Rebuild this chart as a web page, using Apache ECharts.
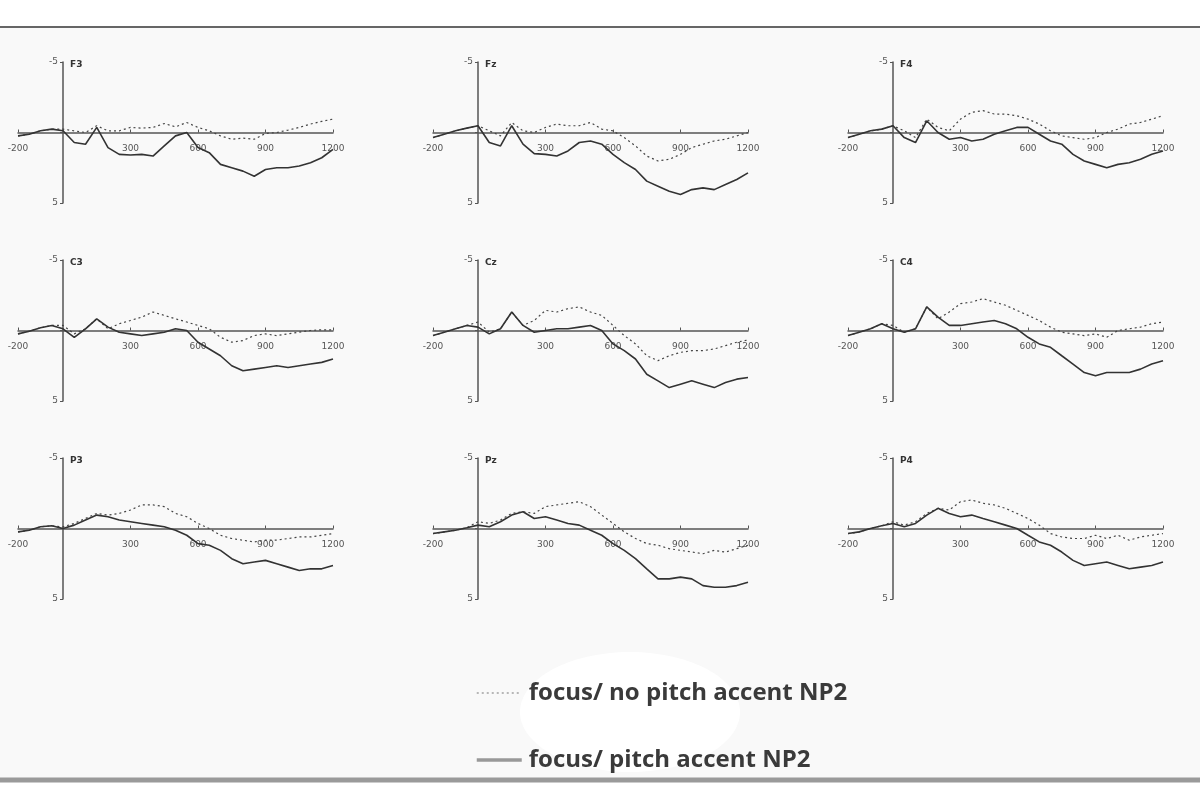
<!DOCTYPE html>
<html>
<head>
<meta charset="utf-8">
<title>ERP waveforms</title>
<script src="https://cdn.jsdelivr.net/npm/echarts@6/dist/echarts.min.js"></script>
<style>
  html, body { margin: 0; padding: 0; background: #fff; }
  #chart { width: 1200px; height: 807px; }
</style>
</head>
<body>
<div id="chart"></div>
<script>
// time points (ms) and tick labels
var times = [-200,-150,-100,-50,0,50,100,150,200,250,300,350,400,450,500,550,600,650,700,750,800,850,900,950,1000,1050,1100,1150,1200];
var xTicks = [-200, 300, 600, 900, 1200];
var electrodes = ['F3','Fz','F4','C3','Cz','C4','P3','Pz','P4'];
var legendNames = ['focus/ no pitch accent NP2', 'focus/ pitch accent NP2'];

// amplitudes in microvolts (negative plotted up)
var f3Dotted = [0.24,0.12,-0.12,-0.24,-0.24,-0.12,0,-0.48,-0.12,-0.12,-0.36,-0.31,-0.36,-0.64,-0.4,-0.71,-0.36,-0.12,0.24,0.48,0.4,0.48,0.07,0,-0.17,-0.36,-0.6,-0.79,-0.95];
var f3Solid  = [0.24,0.12,-0.12,-0.24,-0.12,0.71,0.83,-0.36,1.07,1.55,1.6,1.55,1.67,0.95,0.24,0,1.07,1.43,2.26,2.5,2.74,3.1,2.62,2.5,2.5,2.38,2.14,1.79,1.19];
var fzDotted = [0.36,0.12,-0.12,-0.31,-0.48,-0.12,0.24,-0.71,-0.12,0,-0.36,-0.6,-0.48,-0.48,-0.71,-0.24,-0.12,0.36,0.95,1.67,2.02,1.9,1.55,1.07,0.83,0.6,0.48,0.24,0];
var fzSolid  = [0.36,0.12,-0.12,-0.31,-0.48,0.71,0.95,-0.48,0.83,1.5,1.55,1.67,1.31,0.71,0.6,0.83,1.55,2.14,2.62,3.45,3.81,4.17,4.4,4.05,3.93,4.05,3.69,3.33,2.86];
var f4Dotted = [0.36,0.12,-0.12,-0.24,-0.48,-0.12,0.36,-0.95,-0.36,-0.12,-0.95,-1.43,-1.55,-1.31,-1.31,-1.19,-0.95,-0.6,-0.12,0.24,0.36,0.48,0.36,0,-0.24,-0.6,-0.71,-0.95,-1.19];
var f4Solid  = [0.36,0.12,-0.12,-0.24,-0.48,0.36,0.71,-0.83,0,0.48,0.36,0.6,0.48,0.12,-0.12,-0.36,-0.36,0.12,0.6,0.83,1.55,2.02,2.26,2.5,2.26,2.14,1.9,1.55,1.31];
var c3Dotted = [0.24,0.05,-0.19,-0.36,-0.36,0.24,-0.12,-0.83,-0.12,-0.48,-0.71,-0.95,-1.31,-1.07,-0.83,-0.6,-0.36,-0.12,0.48,0.83,0.71,0.36,0.24,0.36,0.24,0.12,0,-0.05,-0.05];
var c3Solid  = [0.24,0.05,-0.19,-0.36,-0.12,0.48,-0.12,-0.83,-0.24,0.12,0.24,0.36,0.24,0.12,-0.12,0,0.83,1.31,1.79,2.5,2.86,2.74,2.62,2.5,2.62,2.5,2.38,2.26,2.02];
var czDotted = [0.36,0.12,-0.12,-0.36,-0.6,0.12,-0.12,-1.31,-0.36,-0.71,-1.43,-1.31,-1.55,-1.67,-1.31,-1.07,-0.36,0.36,0.95,1.79,2.14,1.79,1.55,1.43,1.43,1.31,1.07,0.83,0.67];
var czSolid  = [0.36,0.12,-0.12,-0.36,-0.24,0.24,-0.12,-1.31,-0.36,0.12,0,-0.12,-0.12,-0.24,-0.36,0,0.95,1.43,2.02,3.1,3.57,4.05,3.81,3.57,3.81,4.05,3.69,3.45,3.33];
var c4Dotted = [0.36,0.12,-0.12,-0.48,-0.36,0.12,-0.12,-1.67,-0.83,-1.31,-1.9,-2.02,-2.26,-2.02,-1.79,-1.43,-1.07,-0.71,-0.24,0.12,0.24,0.36,0.24,0.48,0,-0.12,-0.24,-0.48,-0.6];
var c4Solid  = [0.36,0.12,-0.12,-0.48,-0.12,0.12,-0.12,-1.67,-0.95,-0.36,-0.36,-0.48,-0.6,-0.71,-0.48,-0.12,0.48,0.95,1.19,1.79,2.38,2.98,3.21,2.98,2.98,2.98,2.74,2.38,2.14];
var p3Dotted = [0.24,0.12,-0.12,-0.19,-0.12,-0.36,-0.71,-1.07,-0.95,-1.07,-1.31,-1.67,-1.67,-1.55,-1.07,-0.83,-0.36,0,0.48,0.71,0.83,0.95,0.83,0.83,0.71,0.6,0.6,0.48,0.36];
var p3Solid  = [0.24,0.12,-0.12,-0.19,0,-0.24,-0.6,-0.95,-0.83,-0.6,-0.48,-0.36,-0.24,-0.12,0.12,0.48,1.07,1.19,1.55,2.14,2.5,2.38,2.26,2.5,2.74,2.98,2.86,2.86,2.62];
var pzDotted = [0.36,0.24,0.12,-0.05,-0.48,-0.36,-0.6,-1.07,-1.19,-1.07,-1.55,-1.67,-1.79,-1.9,-1.55,-0.95,-0.36,0.24,0.71,1.07,1.19,1.43,1.55,1.67,1.79,1.55,1.67,1.43,1.19];
var pzSolid  = [0.36,0.24,0.12,-0.05,-0.24,-0.12,-0.48,-0.95,-1.19,-0.71,-0.83,-0.6,-0.36,-0.24,0.12,0.48,1.07,1.55,2.14,2.86,3.57,3.57,3.45,3.57,4.05,4.17,4.17,4.05,3.81];
var p4Dotted = [0.36,0.24,0,-0.19,-0.48,-0.24,-0.48,-1.07,-1.43,-1.31,-1.9,-2.02,-1.79,-1.67,-1.43,-1.07,-0.71,-0.24,0.36,0.6,0.71,0.71,0.48,0.71,0.48,0.83,0.6,0.48,0.36];
var p4Solid  = [0.36,0.24,0,-0.19,-0.36,-0.12,-0.36,-0.95,-1.43,-1.07,-0.83,-0.95,-0.71,-0.48,-0.24,0,0.48,0.95,1.19,1.67,2.26,2.62,2.5,2.38,2.62,2.86,2.74,2.62,2.38];

var dottedSets = [f3Dotted, fzDotted, f4Dotted, c3Dotted, czDotted, c4Dotted, p3Dotted, pzDotted, p4Dotted];
var solidSets  = [f3Solid, fzSolid, f4Solid, c3Solid, czSolid, c4Solid, p3Solid, pzSolid, p4Solid];

var colLeft = [18, 433, 848];
var rowTop = [62, 260, 458];
var panelW = 315, panelH = 141;
// where 0 ms / 0 uV sit inside a panel
var zeroX = panelW * 200 / 1400, zeroY = panelH / 2;

let pairs = vals => times.map(function(t, i){ return [t, vals[i]]; });

var grids = [], xAxes = [], yAxes = [], titles = [], series = [];
electrodes.forEach(function(name, i){
	var left = colLeft[i % 3], top = rowTop[Math.floor(i / 3)];
	grids.push({ left: left, top: top, width: panelW, height: panelH });
	xAxes.push({
		type: 'value', gridIndex: i, min: -200, max: 1200, offset: -zeroY,
		splitLine: { show: false },
		axisLine: { onZero: false, lineStyle: { color: '#555', width: 1.5 } },
		axisTick: { customValues: xTicks, length: 3, inside: true, lineStyle: { color: '#555' } },
		axisLabel: {
			customValues: xTicks, color: '#555', fontSize: 9, margin: 12, fontFamily: 'DejaVu Sans',
			formatter: function(v){ return String(v); }
		}
	});
	yAxes.push({
		type: 'value', gridIndex: i, min: -5, max: 5, interval: 5, inverse: true, offset: -zeroX,
		splitLine: { show: false },
		axisLine: { show: true, onZero: false, lineStyle: { color: '#555', width: 1.5 } },
		axisTick: { length: 3, lineStyle: { color: '#555' } },
		axisLabel: {
			color: '#555', fontSize: 9, margin: 5, fontFamily: 'DejaVu Sans',
			formatter: function(v){ return v === 0 ? '' : String(v); }
		}
	});
	titles.push({
		text: name, left: left + 47, top: top - 7,
		textStyle: { fontSize: 9, fontWeight: 'bold', color: '#333', fontFamily: 'DejaVu Sans' }
	});
	series.push({
		name: legendNames[0], type: 'line', xAxisIndex: i, yAxisIndex: i,
		data: pairs(dottedSets[i]), symbol: 'none', showSymbol: false, z: 3,
		lineStyle: { color: '#444', width: 1.2, type: [2, 3] }
	});
	series.push({
		name: legendNames[1], type: 'line', xAxisIndex: i, yAxisIndex: i,
		data: pairs(solidSets[i]), symbol: 'none', showSymbol: false, z: 4,
		lineStyle: { color: '#333', width: 1.6 }
	});
});

var chart = echarts.init(document.getElementById('chart'));
chart.setOption({
	backgroundColor: '#fff',
	animation: false,
	graphic: [
		{ type: 'rect', z: -10, shape: { x: -3, y: 27, width: 1206, height: 752 },
		  style: { fill: '#f9f9f9', stroke: '#666', lineWidth: 2 } },
		{ type: 'line', z: -9, shape: { x1: 0, y1: 780, x2: 1200, y2: 780 },
		  style: { stroke: '#9a9a9a', lineWidth: 5 } },
		{ type: 'ellipse', z: -9, shape: { cx: 630, cy: 712, rx: 110, ry: 60 },
		  style: { fill: '#ffffff' } }
	],
	title: titles,
	grid: grids,
	xAxis: xAxes,
	yAxis: yAxes,
	legend: {
		orient: 'vertical', left: 470, top: 676, itemGap: 43,
		itemWidth: 45, itemHeight: 14,
		itemStyle: { opacity: 0 },
		textStyle: { fontSize: 24, fontWeight: 'bold', color: '#3a3a3a', fontFamily: 'Open Sans', padding: [0, 0, 0, 2] },
		data: [
			{ name: legendNames[0], itemStyle: { opacity: 0 }, lineStyle: { color: '#777', width: 1.2, type: [2, 3] } },
			{ name: legendNames[1], itemStyle: { opacity: 0 }, lineStyle: { color: '#999', width: 3.5, type: 'solid' } }
		]
	},
	series: series
});
</script>
</body>
</html>
